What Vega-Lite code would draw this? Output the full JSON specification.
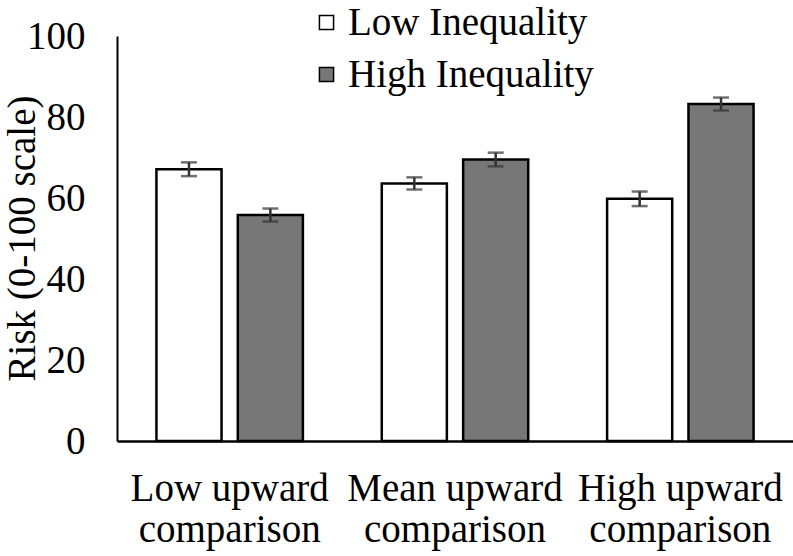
{
  "$schema": "https://vega.github.io/schema/vega-lite/v6.json",
  "width": 676,
  "height": 405,
  "autosize": {"type": "none"},
  "padding": {"left": 117, "top": 36, "right": 0, "bottom": 115},
  "background": "white",
  "config": {
    "view": {"stroke": null},
    "font": "Liberation Serif",
    "axis": {"labelFont": "Liberation Serif", "titleFont": "Liberation Serif", "labelColor": "black", "titleColor": "black", "grid": false},
    "legend": {"labelFont": "Liberation Serif"}
  },
  "data": {
    "values": [
      {"comparison": "Low upward comparison", "inequality": "Low Inequality", "risk": 67.1, "lo": 65.4, "hi": 68.8},
      {"comparison": "Low upward comparison", "inequality": "High Inequality", "risk": 55.8, "lo": 54.2, "hi": 57.4},
      {"comparison": "Mean upward comparison", "inequality": "Low Inequality", "risk": 63.6, "lo": 62.1, "hi": 65.1},
      {"comparison": "Mean upward comparison", "inequality": "High Inequality", "risk": 69.5, "lo": 67.8, "hi": 71.2},
      {"comparison": "High upward comparison", "inequality": "Low Inequality", "risk": 59.8, "lo": 58.0, "hi": 61.6},
      {"comparison": "High upward comparison", "inequality": "High Inequality", "risk": 83.2, "lo": 81.6, "hi": 84.8}
    ]
  },
  "encoding": {
    "x": {
      "field": "comparison",
      "type": "nominal",
      "sort": ["Low upward comparison", "Mean upward comparison", "High upward comparison"],
      "scale": {"paddingInner": 0.35, "paddingOuter": 0.175},
      "axis": {
        "title": null,
        "labelAngle": 0,
        "labelFontSize": 39,
        "labelLineHeight": 41,
        "labelPadding": 28,
        "labelBaseline": "top",
        "labelLimit": 0,
        "ticks": false,
        "domainColor": "black",
        "domainWidth": 2.5,
        "labelExpr": "[replace(datum.value, ' comparison', ''), 'comparison']"
      }
    },
    "xOffset": {
      "field": "inequality",
      "type": "nominal",
      "sort": ["Low Inequality", "High Inequality"],
      "scale": {"paddingInner": 0.2, "paddingOuter": 0}
    }
  },
  "layer": [
    {
      "mark": {"type": "bar", "stroke": "black", "strokeWidth": 2.5},
      "encoding": {
        "y": {
          "field": "risk",
          "type": "quantitative",
          "scale": {"domain": [0, 100], "nice": false},
          "axis": {
            "title": "Risk (0-100 scale)",
            "titleFontSize": 39,
            "titleFontWeight": "normal",
            "titleX": -95,
            "titleY": 202,
            "titleAngle": -90,
            "titleAlign": "center",
            "titleBaseline": "middle",
            "labelFontSize": 39,
            "labelPadding": 32,
            "ticks": false,
            "values": [0, 20, 40, 60, 80, 100],
            "domainColor": "black",
            "domainWidth": 2
          }
        },
        "fill": {
          "field": "inequality",
          "type": "nominal",
          "sort": ["Low Inequality", "High Inequality"],
          "scale": {"domain": ["Low Inequality", "High Inequality"], "range": ["#ffffff", "#777777"]},
          "legend": {
            "title": null,
            "orient": "none",
            "legendX": 190,
            "legendY": -33,
            "symbolType": "square",
            "symbolSize": 200,
            "symbolStrokeColor": "black",
            "symbolStrokeWidth": 1.5,
            "labelFontSize": 39,
            "labelLimit": 0,
            "labelColor": "black",
            "labelOffset": 2,
            "rowPadding": 12
          }
        }
      }
    },
    {
      "mark": {"type": "rule", "color": "#333333", "strokeWidth": 2.5},
      "encoding": {
        "y": {"field": "lo", "type": "quantitative"},
        "y2": {"field": "hi"}
      }
    },
    {
      "mark": {"type": "tick", "color": "#333333", "thickness": 2.5, "size": 16},
      "encoding": {"y": {"field": "lo", "type": "quantitative"}}
    },
    {
      "mark": {"type": "tick", "color": "#333333", "thickness": 2.5, "size": 16},
      "encoding": {"y": {"field": "hi", "type": "quantitative"}}
    }
  ]
}
